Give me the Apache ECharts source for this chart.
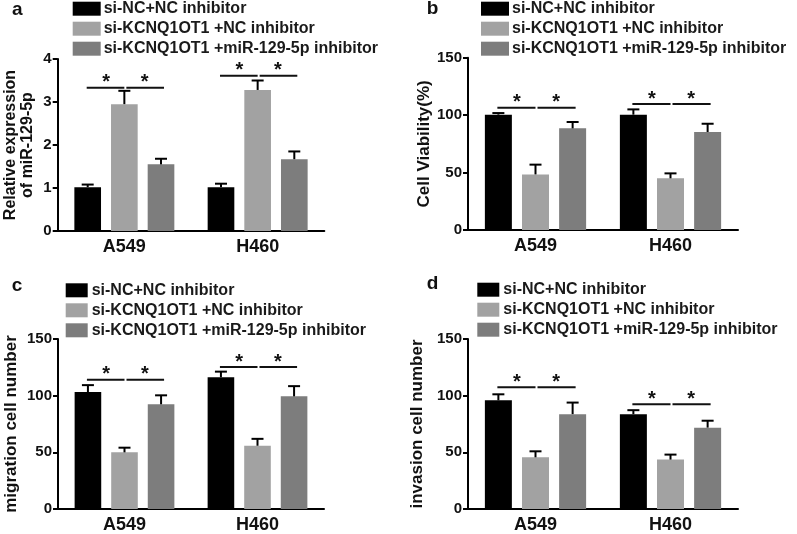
<!DOCTYPE html>
<html>
<head>
<meta charset="utf-8">
<script src="https://cdn.jsdelivr.net/npm/echarts@6/dist/echarts.min.js"></script>
<style>html,body{margin:0;padding:0;background:#fff}#chart{width:797px;height:534px}</style>
</head>
<body>
<div id="chart"></div>
<script>
// ---- data ----
const categories = ['A549', 'H460'];
const seriesNames = ['si-NC+NC inhibitor', 'si-KCNQ1OT1 +NC inhibitor', 'si-KCNQ1OT1 +miR-129-5p inhibitor'];
const panelLetters = ['a', 'b', 'c', 'd'];
const yTitles = ['Relative expression\nof miR-129-5p', 'Cell Viability(%)', 'migration cell number', 'invasion cell number'];
const yMax = [4, 150, 150, 150];
const yInterval = [1, 50, 50, 50];

// means per series: [A549, H460]
const exprMean = [[1.02, 1.02], [2.95, 3.28], [1.55, 1.67]];
const exprErr  = [[0.06, 0.08], [0.31, 0.22], [0.13, 0.18]];
const viabMean = [[100.4, 100.4], [48.4, 45.0], [88.5, 85.3]];
const viabErr  = [[1.4, 4.6], [8.5, 4.3], [5.5, 7.2]];
const migrMean = [[103.2, 116.3], [50.0, 55.8], [92.4, 99.4]];
const migrErr  = [[6.1, 4.9], [4.1, 6.1], [7.9, 9.0]];
const invaMean = [[95.9, 83.7], [45.6, 43.6], [83.7, 71.8]];
const invaErr  = [[5.3, 3.5], [5.3, 4.4], [10.2, 6.1]];
// significance bracket heights: [A549, H460]
const exprSig = [3.33, 3.61];
const viabSig = [106.5, 109.7];
const migrSig = [114.0, 125.3];
const invaSig = [107.5, 92.4];

const means = [exprMean, viabMean, migrMean, invaMean];
const errs = [exprErr, viabErr, migrErr, invaErr];
const sigs = [exprSig, viabSig, migrSig, invaSig];

// ---- styling ----
const colors = ['#000000', '#a2a2a2', '#7d7d7d'];
const FONT = 'Liberation Sans, Arial, sans-serif';
const grids = [
  {left: 57.7, top: 59, width: 266.6, height: 172},
  {left: 468, top: 57.7, width: 270, height: 172.3},
  {left: 58, top: 339, width: 266, height: 172},
  {left: 468, top: 339, width: 270, height: 172}
];
const legendPos = [
  {left: 72.7, top: 0.7, w: 28, pad: -2},
  {left: 481, top: 0.7, w: 28, pad: -2},
  {left: 65.7, top: 282.3, w: 22, pad: -1},
  {left: 477.3, top: 281.7, w: 22, pad: -1}
];
const nameGaps = [22, 33, 38, 42];
const letterPos = [[12, 0], [426.7, -1], [11.7, 276], [426.7, 274.5]];
const CAT_GAP = 0.25, BAR_GAP = 0.375;

function barOffset(api, i) {
  const band = api.size([1, 0])[0];
  const usable = band * (1 - CAT_GAP);
  const bw = usable / (3 + 2 * BAR_GAP);
  return -usable / 2 + bw / 2 + i * bw * (1 + BAR_GAP);
}

const xAxes = [], yAxes = [], series = [], legends = [];
for (let p = 0; p < 4; p++) {
  xAxes.push({
    type: 'category', gridIndex: p, data: categories,
    axisLine: {lineStyle: {color: '#000', width: 2}},
    axisTick: {alignWithLabel: true, length: 5, lineStyle: {color: '#000', width: 2}},
    axisLabel: {color: '#111', fontFamily: FONT, fontWeight: 'bold', fontSize: 18, margin: 7}
  });
  yAxes.push({
    type: 'value', gridIndex: p, min: 0, max: yMax[p], interval: yInterval[p],
    name: yTitles[p], nameLocation: 'middle', nameGap: nameGaps[p],
    nameTextStyle: {color: '#111', fontFamily: FONT, fontWeight: 'bold', fontSize: p === 0 ? 16 : 17, lineHeight: 17},
    axisLine: {show: true, lineStyle: {color: '#000', width: 2}},
    axisTick: {show: true, length: 5, lineStyle: {color: '#000', width: 2}},
    axisLabel: {color: '#111', fontFamily: FONT, fontWeight: 'bold', fontSize: 15, margin: 6},
    splitLine: {show: false}
  });
  for (let i = 0; i < 3; i++) {
    series.push({
      type: 'bar', name: seriesNames[i], xAxisIndex: p, yAxisIndex: p,
      data: means[p][i], barGap: (BAR_GAP * 100) + '%', barCategoryGap: (CAT_GAP * 100) + '%',
      itemStyle: {color: colors[i]}, z: 2
    });
  }
  // error bars
  const errData = [];
  for (let i = 0; i < 3; i++) for (let c = 0; c < categories.length; c++) {
    errData.push([c, means[p][i][c], errs[p][i][c], i]);
  }
  series.push({
    type: 'custom', xAxisIndex: p, yAxisIndex: p, data: errData, z: 3, silent: true,
    renderItem: function (params, api) {
      const c = api.value(0), m = api.value(1), e = api.value(2), i = api.value(3);
      const base = api.coord([c, m]);
      const top = api.coord([c, m + e]);
      const x = base[0] + barOffset(api, i);
      return {type: 'group', children: [
        {type: 'line', shape: {x1: x, y1: base[1], x2: x, y2: top[1]}, style: {stroke: '#000', lineWidth: 2}},
        {type: 'line', shape: {x1: x - 6, y1: top[1], x2: x + 6, y2: top[1]}, style: {stroke: '#000', lineWidth: 2}}
      ]};
    }
  });
  // significance brackets
  series.push({
    type: 'custom', xAxisIndex: p, yAxisIndex: p, data: sigs[p].map((v, c) => [c, v]), z: 3, silent: true,
    renderItem: function (params, api) {
      const c = api.value(0), v = api.value(1);
      const pt = api.coord([c, v]);
      const x0 = pt[0] + barOffset(api, 0), x1 = pt[0] + barOffset(api, 1), x2 = pt[0] + barOffset(api, 2);
      const y = pt[1];
      const star = (cx) => ({type: 'text', x: cx, y: y - 5, style: {text: '*', fontFamily: FONT, fontWeight: 'bold', fontSize: 20, fill: '#111', align: 'center', verticalAlign: 'middle'}});
      return {type: 'group', children: [
        {type: 'line', shape: {x1: x0 - 1, y1: y, x2: x1, y2: y}, style: {stroke: '#111', lineWidth: 2}},
        {type: 'line', shape: {x1: x1 + 2, y1: y, x2: x2 + 3, y2: y}, style: {stroke: '#111', lineWidth: 2}},
        star((x0 + x1) / 2), star((x1 + x2) / 2 + 2)
      ]};
    }
  });
  const lp = legendPos[p];
  legends.push({
    data: seriesNames, orient: 'vertical', left: lp.left, top: lp.top, padding: 0,
    itemWidth: lp.w, itemHeight: 14, itemGap: 4, icon: 'rect', selectedMode: false,
    itemStyle: {borderWidth: 0},
    textStyle: {color: '#1a1a1a', fontFamily: FONT, fontWeight: 'bold', fontSize: 16, padding: [0, 0, 0, lp.pad]}
  });
}

const graphics = panelLetters.map((t, p) => ({
  type: 'text', left: letterPos[p][0], top: letterPos[p][1],
  style: {text: t, fontFamily: FONT, fontWeight: 'bold', fontSize: 19, fill: '#111'}
}));

const chart = echarts.init(document.getElementById('chart'), null, {renderer: 'canvas'});
chart.setOption({
  animation: false,
  backgroundColor: '#fff',
  grid: grids,
  xAxis: xAxes,
  yAxis: yAxes,
  legend: legends,
  series: series,
  graphic: graphics
});
</script>
</body>
</html>
